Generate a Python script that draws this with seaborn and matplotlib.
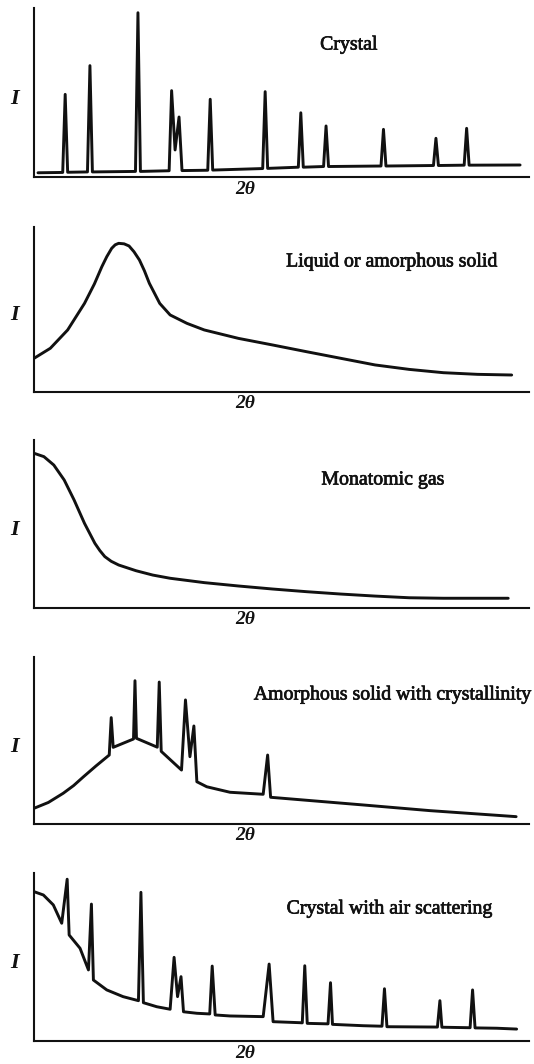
import matplotlib
matplotlib.use("Agg")
import matplotlib.pyplot as plt
import matplotlib.patheffects as pe
import seaborn as sns

# ---------------- data (2θ and I in arbitrary units 0-100) ----------------
titles = ["Crystal", "Liquid or amorphous solid", "Monatomic gas",
          "Amorphous solid with crystallinity", "Crystal with air scattering"]
x_label = "2θ"
y_label = "I"

crystal_x = [0.8, 5.8, 6.3, 6.8, 10.8, 11.3, 11.8, 20.5, 21.0, 21.5, 27.3, 27.8, 28.5, 29.3, 29.9,
             35.1, 35.6, 36.1, 46.2, 46.7, 47.2, 53.4, 53.9, 54.4, 58.5, 59.0, 59.5, 70.1, 70.6, 71.1,
             80.7, 81.2, 81.7, 86.9, 87.4, 87.9, 98.2]
crystal_y = [2.5, 2.7, 48.9, 2.8, 3.0, 65.9, 3.0, 3.3, 97.2, 3.3, 3.7, 51.1, 16.0, 35.5, 3.8,
             4.0, 46.0, 4.1, 5.0, 50.5, 5.1, 5.8, 38.0, 5.8, 6.2, 30.2, 6.2, 6.5, 28.2, 6.5,
             6.8, 22.9, 6.8, 7.0, 28.8, 7.0, 7.1]

liquid_x = [0.0, 3.3, 6.8, 10.2, 12.2, 13.7, 14.7, 15.7, 16.4, 17.1, 18.2, 19.2, 20.2, 21.3, 22.3,
            23.3, 25.4, 27.5, 30.9, 34.4, 41.3, 48.2, 55.1, 62.0, 68.9, 75.8, 82.7, 89.6, 96.5]
liquid_y = [20.4, 26.5, 37.6, 53.7, 65.5, 75.9, 82.0, 87.1, 89.2, 90.1, 89.8, 88.5, 85.0, 80.0, 73.5,
            65.9, 53.7, 46.7, 41.6, 37.6, 32.5, 28.5, 24.4, 20.4, 16.4, 13.7, 11.7, 10.7, 10.3]

gas_x = [0.0, 2.0, 4.0, 6.1, 8.1, 10.2, 12.3, 13.3, 14.3, 15.6, 17.1, 20.6, 24.0, 27.5, 34.4, 41.3,
         48.2, 55.1, 62.0, 68.9, 75.8, 82.7, 89.6, 95.8]
gas_y = [92.1, 90.1, 85.1, 76.2, 64.3, 50.4, 38.5, 34.2, 30.6, 27.8, 25.6, 22.2, 19.6, 17.7, 15.1, 13.1,
         11.3, 9.7, 8.3, 7.1, 6.1, 5.8, 5.8, 5.8]

amorph_x = [0.0, 2.9, 5.9, 8.0, 10.0, 12.5, 15.2, 15.6, 16.0, 20.1, 20.4, 20.7, 24.9, 25.3, 25.7, 29.8,
            30.6, 31.5, 32.3, 32.9, 34.9, 39.6, 46.3, 47.2, 47.8, 66.5, 80.0, 97.4]
amorph_y = [9.4, 12.9, 18.4, 23.0, 28.3, 34.7, 41.3, 63.7, 45.9, 50.9, 85.8, 51.3, 46.0, 85.0, 43.5, 32.3,
            74.3, 40.3, 58.7, 25.3, 22.3, 19.0, 17.8, 41.3, 16.0, 11.4, 8.0, 4.4]

air_x = [0.0, 1.9, 3.9, 5.6, 6.7, 7.1, 9.3, 11.0, 11.6, 12.0, 14.7, 18.0, 21.1, 21.6, 22.1,
         24.8, 27.5, 28.3, 29.0, 29.7, 30.2, 32.9, 35.5, 36.0, 36.6, 39.6, 46.3, 47.5, 48.3,
         53.7, 54.2, 54.7, 55.2, 59.4, 59.9, 60.3, 66.5, 70.3, 70.8, 71.3, 81.5, 82.0, 82.4,
         88.1, 88.6, 89.1, 93.5, 97.5]
air_y = [88.9, 86.9, 81.0, 70.1, 96.3, 63.1, 55.2, 42.3, 81.5, 36.3, 30.4, 26.4, 24.0, 88.5, 22.8,
         20.4, 18.9, 49.8, 26.4, 38.3, 17.4, 16.5, 16.1, 44.6, 15.5, 14.9, 14.5, 45.8, 11.5,
         10.9, 10.8, 44.8, 10.5, 10.2, 34.7, 9.9, 9.1, 8.8, 31.1, 8.5, 8.3, 24.0, 8.2,
         7.9, 30.4, 7.8, 7.6, 7.1]

traces = [(crystal_x, crystal_y), (liquid_x, liquid_y), (gas_x, gas_y),
          (amorph_x, amorph_y), (air_x, air_y)]

# ---------------- layout / style ----------------
sns.set_theme(style="white")
plt.rcParams["font.family"] = ["Liberation Serif", "DejaVu Serif"]

W, H = 534, 1064
fig = plt.figure(figsize=(W / 100, H / 100), dpi=100)
fig.patch.set_facecolor("white")

# axes boxes in pixels: (top, bottom)
boxes = [(8, 177), (227, 392), (440, 608), (657, 824), (873, 1041)]
left_px, right_px = 34, 529
title_pos = [(349, 45), (392, 262), (383, 480), (393, 695), (390, 909)]

ink = "#111111"
heavy = [pe.withStroke(linewidth=0.5, foreground=ink)]
for i, ((top, bot), (tx, ty)) in enumerate(zip(boxes, traces)):
    ax = fig.add_axes([left_px / W, (H - bot) / H, (right_px - left_px) / W, (bot - top) / H])
    sns.lineplot(x=tx, y=ty, ax=ax, sort=False, estimator=None, color=ink, linewidth=2.1,
                 solid_joinstyle="round", solid_capstyle="round")
    ax.set_xlim(0, 100)
    ax.set_ylim(0, 100)
    ax.set_xticks([])
    ax.set_yticks([])
    ax.set_xlabel("")
    ax.set_ylabel("")
    sns.despine(ax=ax)
    for s in ("left", "bottom"):
        ax.spines[s].set_color(ink)
        ax.spines[s].set_linewidth(1.5)
    ax.patch.set_alpha(0)
    h = bot - top
    # axis labels
    ax.text((15 - left_px) / (right_px - left_px), 0.5 - 6 / h, y_label,
            transform=ax.transAxes, ha="center", va="center", fontsize=16,
            fontstyle="italic", fontweight="bold", color=ink)
    ax.text((245 - left_px) / (right_px - left_px), -12 / h, x_label,
            transform=ax.transAxes, ha="center", va="center", fontsize=14,
            fontstyle="italic", fontweight="bold", color=ink)
    # title text
    px, py = title_pos[i]
    fig.text(px / W, 1 - py / H, titles[i], ha="center", va="center",
             fontsize=14.3, color=ink, path_effects=heavy)

fig.savefig("out.png", dpi=100, facecolor="white")
